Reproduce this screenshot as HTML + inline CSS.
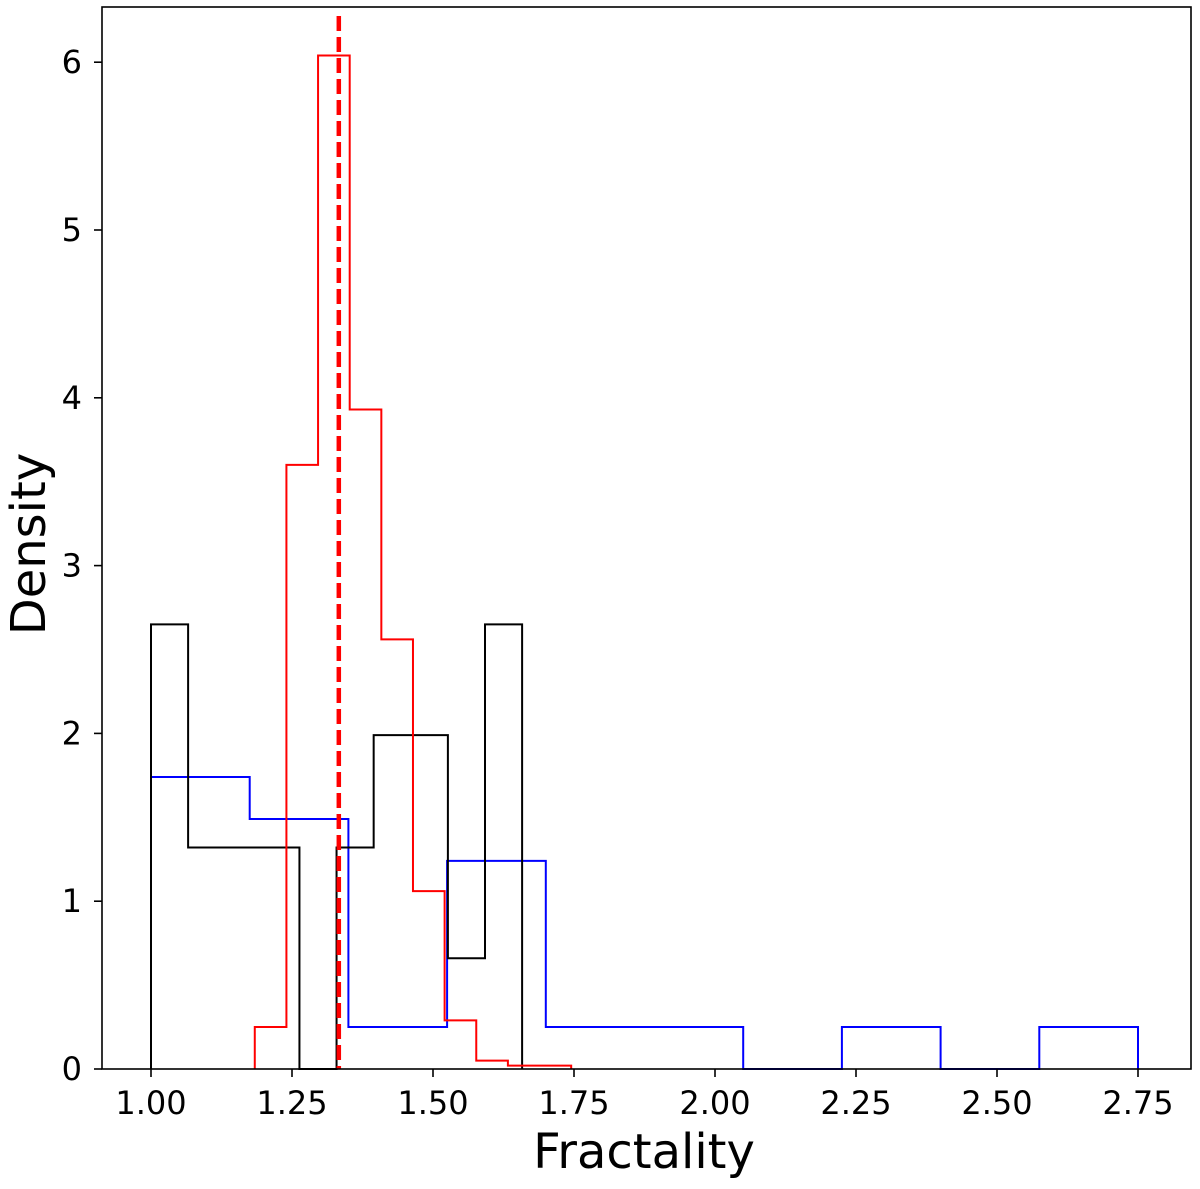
<!DOCTYPE html>
<html><head><meta charset="utf-8"><style>
body{margin:0;background:#fff}
svg text{font-family:"DejaVu Sans","Liberation Sans",sans-serif;fill:#000}
</style></head><body>
<svg id="chart" width="1200" height="1184" xmlns="http://www.w3.org/2000/svg"></svg>
<script>
const xTicks=[1.00,1.25,1.50,1.75,2.00,2.25,2.50,2.75];
const xTickLabels=["1.00","1.25","1.50","1.75","2.00","2.25","2.50","2.75"];
const yTicks=[0,1,2,3,4,5,6];
const redStart=1.184, redWidth=0.0561;
const redValues=[0.25,3.6,6.04,3.93,2.56,1.06,0.29,0.05,0.02,0.02];
const blackStart=1.0, blackWidth=0.0658;
const blackValues=[2.65,1.32,1.32,1.32,0,1.32,1.99,1.99,0.66,2.65];
const blueStart=1.0, blueWidth=0.175;
const blueValues=[1.74,1.49,0.25,1.24,0.25,0.25,0,0.25,0,0.25];
const refLine=1.333;

const L=102,R=1191,T=7,B=1069;
const X=v=>151+(v-1)*564;
const Y=v=>1069-v*167.8;
const svg=document.getElementById('chart');
const NS='http://www.w3.org/2000/svg';
function mk(t,a){const e=document.createElementNS(NS,t);for(const k in a)e.setAttribute(k,a[k]);svg.appendChild(e);return e;}

function hist(start,w,vals,color,name){
  let d='M'+X(start)+','+Y(0);
  vals.forEach((v,i)=>{d+=' L'+X(start+i*w)+','+Y(v)+' L'+X(start+(i+1)*w)+','+Y(v);});
  d+=' L'+X(start+vals.length*w)+','+Y(0);
  const p=mk('path',{d:d,fill:'none',stroke:color,'stroke-width':2});
  
  
}
hist(blueStart,blueWidth,blueValues,'#0000ff','blue-histogram');
hist(blackStart,blackWidth,blackValues,'#000000','black-histogram');
hist(redStart,redWidth,redValues,'#ff0000','red-histogram');

const ref=mk('line',{x1:X(refLine),x2:X(refLine),y1:16,y2:B,stroke:'#ff0000','stroke-width':4.5,'stroke-dasharray':'15,6'});



const frame=mk('rect',{x:L,y:T,width:R-L,height:B-T,fill:'none',stroke:'#000','stroke-width':1.6});



xTicks.forEach((v,i)=>{
  const t=mk('line',{x1:X(v),x2:X(v),y1:B,y2:B+8,stroke:'#000','stroke-width':1.6});
  
  
  const l=mk('text',{x:X(v),y:1114,'font-size':32,'text-anchor':'middle'});
  l.textContent=xTickLabels[i];
  
  
});
yTicks.forEach(v=>{
  const t=mk('line',{x1:L-8,x2:L,y1:Y(v),y2:Y(v),stroke:'#000','stroke-width':1.6});
  
  
  const l=mk('text',{x:82,y:Y(v)+11,'font-size':32,'text-anchor':'end'});
  l.textContent=String(v);
  
  
});
const xl=mk('text',{x:644,y:1168,'font-size':48,'text-anchor':'middle'});
xl.textContent='Fractality';


const yl=mk('text',{x:0,y:0,'font-size':48,'text-anchor':'middle',transform:'translate(45,544) rotate(-90)'});
yl.textContent='Density';


</script>
</body></html>
